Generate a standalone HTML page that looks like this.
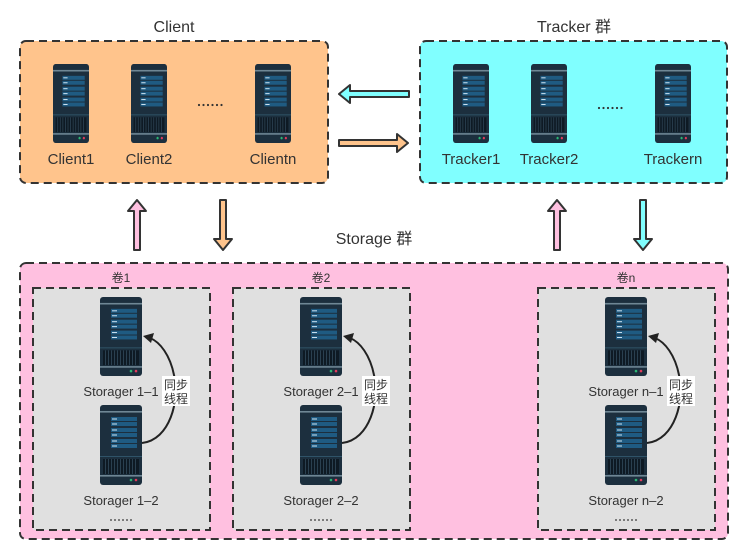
<!DOCTYPE html>
<html><head><meta charset="utf-8"><style>
html,body{margin:0;padding:0;background:#fff}
svg{display:block}
text{font-family:"Liberation Sans","Noto Sans CJK SC",sans-serif;fill:#333}
</style></head><body>
<svg width="752" height="554" viewBox="0 0 752 554" xmlns="http://www.w3.org/2000/svg">
<defs>
<symbol id="srv" viewBox="0 0 42 80" preserveAspectRatio="none">
<rect x="0" y="0" width="42" height="80" rx="3" fill="#1c2f3e"/>
<rect x="0" y="6" width="42" height="1.6" fill="#6f8795"/>
<rect x="11" y="12" width="26" height="4" fill="#1f5b82"/>
<rect x="11" y="17" width="26" height="4" fill="#1f5b82"/>
<rect x="11" y="23" width="26" height="4" fill="#1f5b82"/>
<rect x="11" y="28" width="26" height="4" fill="#1f5b82"/>
<rect x="11" y="34" width="26" height="4" fill="#1f5b82"/>
<rect x="11" y="39" width="26" height="4" fill="#1f5b82"/>
<rect x="12" y="13.5" width="5" height="1" fill="#cfe4f2"/>
<rect x="12" y="18.5" width="5" height="1" fill="#cfe4f2"/>
<rect x="12" y="24.5" width="5" height="1" fill="#cfe4f2"/>
<rect x="12" y="29.5" width="5" height="1" fill="#cfe4f2"/>
<rect x="12" y="35.5" width="5" height="1" fill="#cfe4f2"/>
<rect x="12" y="40.5" width="5" height="1" fill="#cfe4f2"/>
<rect x="0" y="51" width="42" height="1" fill="#2f5368"/>
<g fill="#0e1a24"><rect x="3" y="54" width="36" height="15"/></g>
<g fill="#2a4050">
<rect x="5" y="54" width="1" height="15"/><rect x="8" y="54" width="1" height="15"/><rect x="11" y="54" width="1" height="15"/><rect x="14" y="54" width="1" height="15"/><rect x="17" y="54" width="1" height="15"/><rect x="20" y="54" width="1" height="15"/><rect x="23" y="54" width="1" height="15"/><rect x="26" y="54" width="1" height="15"/><rect x="29" y="54" width="1" height="15"/><rect x="32" y="54" width="1" height="15"/><rect x="35" y="54" width="1" height="15"/></g>
<rect x="0" y="70" width="42" height="1.6" fill="#6f8795"/>
<circle cx="31" cy="75" r="1.3" fill="#2bb673"/>
<circle cx="36" cy="75" r="1.3" fill="#e23b5c"/>
</symbol>
<g id="dots6" fill="#333">
<circle cx="0" cy="0" r="1.1"/><circle cx="4.5" cy="0" r="1.1"/><circle cx="9" cy="0" r="1.1"/><circle cx="13.5" cy="0" r="1.1"/><circle cx="18" cy="0" r="1.1"/><circle cx="22.5" cy="0" r="1.1"/>
</g>
<g id="sdots" fill="#333">
<circle cx="0" cy="0" r="0.9"/><circle cx="4" cy="0" r="0.9"/><circle cx="8" cy="0" r="0.9"/><circle cx="12" cy="0" r="0.9"/><circle cx="16" cy="0" r="0.9"/><circle cx="20" cy="0" r="0.9"/>
</g>
</defs>

<text x="174" y="32" font-size="16" text-anchor="middle">Client</text>
<text x="574" y="32" font-size="16" text-anchor="middle">Tracker 群</text>
<text x="374" y="244" font-size="16" text-anchor="middle">Storage 群</text>

<rect x="20" y="41" width="308" height="142" rx="6" fill="#ffc48c" stroke="#333" stroke-width="2" stroke-dasharray="8,5"/>
<use href="#srv" x="53" y="64" width="36" height="79"/>
<use href="#srv" x="131" y="64" width="36" height="79"/>
<use href="#srv" x="255" y="64" width="36" height="79"/>
<use href="#dots6" x="199" y="105"/>
<text x="71" y="164" font-size="15" text-anchor="middle">Client1</text>
<text x="149" y="164" font-size="15" text-anchor="middle">Client2</text>
<text x="273" y="164" font-size="15" text-anchor="middle">Clientn</text>

<rect x="420" y="41" width="307" height="142" rx="6" fill="#80ffff" stroke="#333" stroke-width="2" stroke-dasharray="8,5"/>
<use href="#srv" x="453" y="64" width="36" height="79"/>
<use href="#srv" x="531" y="64" width="36" height="79"/>
<use href="#srv" x="655" y="64" width="36" height="79"/>
<use href="#dots6" x="599" y="108"/>
<text x="471" y="164" font-size="15" text-anchor="middle">Tracker1</text>
<text x="549" y="164" font-size="15" text-anchor="middle">Tracker2</text>
<text x="673" y="164" font-size="15" text-anchor="middle">Trackern</text>

<path d="M409,91 L350,91 L350,85 L339,94 L350,103 L350,97 L409,97 Z" fill="#80ffff" stroke="#333" stroke-width="2" stroke-linejoin="round"/>
<path d="M339,140 L397,140 L397,134 L408,143 L397,152 L397,146 L339,146 Z" fill="#ffc48c" stroke="#333" stroke-width="2" stroke-linejoin="round"/>

<path d="M134,250 L134,211 L128,211 L137,200 L146,211 L140,211 L140,250 Z" fill="#ffc0e0" stroke="#333" stroke-width="2" stroke-linejoin="round"/>
<path d="M220,200 L220,239 L214,239 L223,250 L232,239 L226,239 L226,200 Z" fill="#ffc48c" stroke="#333" stroke-width="2" stroke-linejoin="round"/>
<path d="M554,250 L554,211 L548,211 L557,200 L566,211 L560,211 L560,250 Z" fill="#ffc0e0" stroke="#333" stroke-width="2" stroke-linejoin="round"/>
<path d="M640,200 L640,239 L634,239 L643,250 L652,239 L646,239 L646,200 Z" fill="#80ffff" stroke="#333" stroke-width="2" stroke-linejoin="round"/>

<rect x="20" y="263" width="708" height="276" rx="6" fill="#ffc0e0" stroke="#333" stroke-width="2" stroke-dasharray="8,5"/>

<g id="vol1">
<rect x="33" y="288" width="177" height="242" fill="#e0e0e0" stroke="#333" stroke-width="2" stroke-dasharray="8,5"/>
<use href="#srv" x="100" y="297" width="42" height="79"/>
<use href="#srv" x="100" y="405" width="42" height="80"/>
<use href="#sdots" x="111" y="520"/>
<path d="M142,443 C170,440 180,400 174,375 C170,355 160,342 150,338" fill="none" stroke="#222" stroke-width="2"/>
<path d="M143,336 L154,333 L151,343 Z" fill="#222"/>
<rect x="162" y="376" width="28" height="30" fill="#fff"/>
<text x="176" y="389" font-size="12" text-anchor="middle">同步</text>
<text x="176" y="403" font-size="12" text-anchor="middle">线程</text>
</g>
<use href="#vol1" x="200" y="0"/>
<use href="#vol1" x="505" y="0"/>
<text x="121" y="282" font-size="12" text-anchor="middle">卷1</text>
<text x="321" y="282" font-size="12" text-anchor="middle">卷2</text>
<text x="626" y="282" font-size="12" text-anchor="middle">卷n</text>
<text x="121" y="396" font-size="13" text-anchor="middle">Storager 1–1</text>
<text x="121" y="505" font-size="13" text-anchor="middle">Storager 1–2</text>
<text x="321" y="396" font-size="13" text-anchor="middle">Storager 2–1</text>
<text x="321" y="505" font-size="13" text-anchor="middle">Storager 2–2</text>
<text x="626" y="396" font-size="13" text-anchor="middle">Storager n–1</text>
<text x="626" y="505" font-size="13" text-anchor="middle">Storager n–2</text>
</svg>
</body></html>
